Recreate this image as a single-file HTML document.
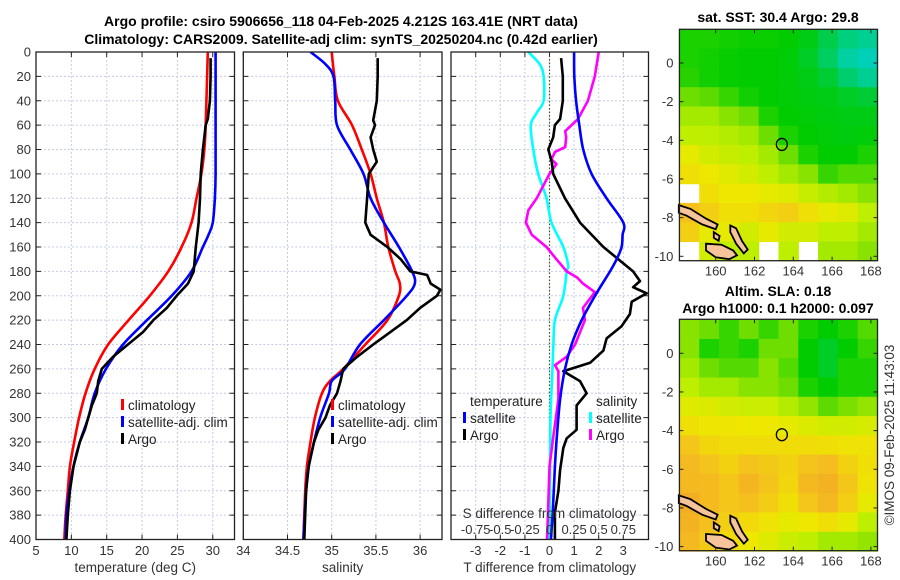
<!DOCTYPE html>
<html><head><meta charset="utf-8">
<style>
html,body{margin:0;padding:0;background:#fff;}
svg{display:block;font-family:"Liberation Sans","DejaVu Sans",sans-serif;}
.tk{font-size:13px;fill:#333;}
.ttl{font-size:14px;font-weight:bold;fill:#000;}
.lab{font-size:13.5px;fill:#333;}
.leg{font-size:13.5px;fill:#222;}
</style></head>
<body>
<svg id="chart" width="900" height="580" viewBox="0 0 900 580">
<text class="ttl" x="341" y="26" text-anchor="middle">Argo profile: csiro 5906656_118 04-Feb-2025 4.212S 163.41E (NRT data)</text>
<text class="ttl" x="341" y="44" text-anchor="middle">Climatology: CARS2009. Satellite-adj clim: synTS_20250204.nc (0.42d earlier)</text>
<text class="ttl" x="778" y="22" text-anchor="middle">sat. SST: 30.4 Argo: 29.8</text>
<text class="ttl" x="778" y="296" text-anchor="middle">Altim. SLA: 0.18</text>
<text class="ttl" x="778" y="313" text-anchor="middle">Argo h1000: 0.1 h2000: 0.097</text>
<text class="lab" x="0" y="0" transform="translate(894,435) rotate(-90)" text-anchor="middle">©IMOS 09-Feb-2025 11:43:03</text>
<g id="g-panels"></g>
<g id="g-maps"></g>
</svg>
<script>
// ---- depth axis data ----
const depthTicks = [0,20,40,60,80,100,120,140,160,180,200,220,240,260,280,300,320,340,360,380,400];
const tempTicks = [5,10,15,20,25,30];
const salTicks = [34,34.5,35,35.5,36];
const salTickLabels = ["34","34.5","35","35.5","36"];
const diffTicks = [-3,-2,-1,0,1,2,3];
const sdiffTicks = [-0.75,-0.5,-0.25,0,0.25,0.5,0.75];
const sdiffLabels = ["-0.75","-0.5","-0.25","0","0.25","0.5","0.75"];

// ---- temperature profiles ----
const climTDepth = [0,60,80,100,120,140,160,180,200,220,240,260,280,300,320,340,360,380,400];
const climTVal   = [29.3,29.0,28.8,28.4,27.7,27.0,25.6,23.7,21.1,18.1,15.2,13.3,12.0,11.1,10.4,9.8,9.5,9.2,9.0];
const satTDepth = [0,60,100,120,140,150,160,180,200,220,240,260,280,300,320,340,360,380,400];
const satTVal   = [30.4,30.4,30.4,30.3,30.0,29.4,28.6,27.0,24.2,20.7,17.3,14.9,13.3,12.4,11.2,10.3,9.7,9.3,9.2];
const argoTDepth = [5,20,40,55,60,80,100,120,140,160,180,190,200,210,220,230,240,250,260,270,280,290,300,310,320,340,360,380,400];
const argoTVal   = [29.7,29.7,29.6,29.3,29.0,28.6,28.3,28.2,28.0,27.6,27.3,26.5,24.9,23.5,21.6,20.1,18.0,15.9,14.3,13.8,13.6,12.9,12.4,11.9,11.2,10.3,9.8,9.5,9.3];

// ---- salinity profiles ----
const climSDepth = [0,20,40,60,80,100,120,140,160,180,190,200,220,240,260,270,280,300,320,340,360,400];
const climSVal   = [35.0,35.03,35.07,35.23,35.34,35.44,35.51,35.59,35.64,35.72,35.77,35.76,35.63,35.38,35.13,34.98,34.89,34.81,34.76,34.72,34.70,34.68];
const satSDepth = [0,10,20,40,60,80,100,120,140,160,180,190,200,220,240,260,270,280,300,320,340,360,400];
const satSVal   = [34.76,34.93,35.02,35.04,35.06,35.21,35.36,35.44,35.59,35.76,35.91,35.94,35.85,35.59,35.32,35.15,35.0,34.97,34.87,34.80,34.74,34.71,34.68];
const argoSDepth = [5,20,40,56,60,70,80,90,100,120,140,150,160,170,180,183,190,195,200,210,220,230,240,250,260,270,280,290,300,310,320,340,360,380,400];
const argoSVal   = [35.52,35.52,35.51,35.47,35.49,35.44,35.47,35.51,35.42,35.40,35.38,35.44,35.63,35.78,35.89,36.08,36.12,36.23,36.19,36.0,35.85,35.66,35.47,35.29,35.13,35.1,35.06,34.98,34.93,34.85,34.80,34.74,34.71,34.70,34.69];

// ---- differences from climatology ----
const satTdDepth = [0,20,40,60,80,100,120,140,150,160,170,180,200,220,240,260,285,318,340,378,400];
const satTdVal   = [1.0,1.01,1.08,1.21,1.37,1.71,2.32,3.0,2.97,2.93,2.73,2.46,1.85,1.31,0.9,0.63,0.43,0.29,0.22,0.13,0.06];
const argoTdDepth = [5,20,40,55,60,70,80,90,100,120,140,160,180,188,193,198,205,215,225,235,245,255,262,270,280,290,310,317,325,343,360,378,400];
const argoTdVal   = [0.47,0.54,0.54,0.43,0.22,0.15,-0.05,0.09,0.15,0.63,1.24,2.19,3.4,3.68,3.4,3.95,3.34,3.27,2.93,2.32,2.19,1.65,0.56,1.24,1.51,1.1,1.1,0.7,0.56,0.43,0.36,0.22,0.22];
const satSdDepth = [0,10,20,40,50,60,80,100,120,140,160,175,180,200,220,240,260,300,350,400];
const satSdVal   = [-0.215,-0.10,-0.06,-0.06,-0.13,-0.19,-0.165,-0.115,-0.03,0.02,0.14,0.19,0.175,0.14,0.055,0.04,0.03,0.01,0.005,0.0];
const argoSdDepth = [0,20,40,55,60,65,70,78,82,88,92,100,120,130,140,150,160,170,180,185,190,197,210,220,230,240,250,257,262,285,318,340,378,400];
const argoSdVal   = [0.50,0.46,0.39,0.29,0.225,0.16,0.17,0.16,0.056,0.02,0.07,0.0,-0.13,-0.215,-0.24,-0.18,-0.03,0.07,0.175,0.28,0.34,0.46,0.34,0.36,0.31,0.26,0.175,0.056,0.09,0.09,0.035,0.0,-0.015,-0.025];

// ---- map grids (0=cyan/low ... 1=orange/high, null = no data) ----
const sstGrid = [
 [0.30,0.30,0.28,0.27,0.27,0.25,0.22,0.15,0.08,0.05],
 [0.30,0.28,0.26,0.25,0.25,0.24,0.20,0.12,0.03,0.00],
 [0.32,0.28,0.26,0.25,0.25,0.24,0.22,0.18,0.10,0.05],
 [0.45,0.42,0.35,0.28,0.25,0.24,0.23,0.22,0.20,0.18],
 [0.55,0.55,0.50,0.45,0.30,0.25,0.24,0.23,0.22,0.22],
 [0.60,0.60,0.58,0.55,0.45,0.30,0.25,0.24,0.23,0.24],
 [0.70,0.65,0.62,0.60,0.55,0.45,0.30,0.25,0.25,0.30],
 [0.75,0.72,0.68,0.65,0.60,0.55,0.50,0.35,0.40,0.40],
 [null,0.75,0.72,0.72,0.70,0.68,0.62,0.58,0.55,0.50],
 [0.85,0.80,0.75,0.75,0.78,0.80,0.75,0.70,0.68,0.60],
 [0.80,0.70,0.70,0.65,0.70,0.65,0.65,0.60,0.60,0.55],
 [null,0.65,0.60,0.60,null,0.60,null,0.55,0.55,0.50]
];
const slaGrid = [
 [0.50,0.45,0.35,0.45,0.35,0.45,0.30,0.25,0.30,0.40],
 [0.50,0.30,0.35,0.30,0.45,0.45,0.25,0.20,0.25,0.35],
 [0.55,0.45,0.40,0.40,0.50,0.40,0.25,0.20,0.30,0.30],
 [0.60,0.55,0.55,0.50,0.50,0.45,0.30,0.25,0.30,0.30],
 [0.68,0.67,0.65,0.63,0.63,0.58,0.52,0.42,0.47,0.52],
 [0.75,0.73,0.73,0.72,0.72,0.70,0.67,0.65,0.65,0.66],
 [0.83,0.78,0.76,0.76,0.76,0.76,0.76,0.75,0.74,0.74],
 [0.87,0.84,0.79,0.84,0.82,0.79,0.84,0.86,0.79,0.75],
 [0.88,0.87,0.83,0.89,0.84,0.78,0.88,0.90,0.83,0.74],
 [0.92,0.87,0.83,0.85,0.81,0.75,0.83,0.88,0.80,0.70],
 [0.90,0.85,0.80,0.77,0.74,0.70,0.72,0.75,0.70,0.60],
 [0.88,0.82,0.77,0.72,0.68,0.63,0.60,0.55,0.55,0.52]
];
const lonTicks = [160,162,164,166,168];
const latTicks = [0,-2,-4,-6,-8,-10];
const argoPos = [163.41,-4.212];

const NS = "http://www.w3.org/2000/svg";
function mk(tag, attrs, parent){
  const e = document.createElementNS(NS, tag);
  for (const k in attrs) e.setAttribute(k, attrs[k]);
  parent.appendChild(e);
  return e;
}
const gp = document.getElementById('g-panels');
const gm = document.getElementById('g-maps');

const TOP = 52, BOT = 539.5;
const yD = d => TOP + d * (BOT - TOP) / 400;
const xT = t => 36 + (t - 5) * 7.07;
const xS = s => 243.3 + (s - 34) * 88.4;
const xD = v => 549.5 + v * 24.6;
const xSD = v => xD(v * 4);

const panels = [
  {name:'temperature-panel', x0:36, x1:234.5, xs:tempTicks, xf:xT, xl:tempTicks.map(String), ylab:true, xlabel:'temperature (deg C)'},
  {name:'salinity-panel', x0:243.3, x1:442, xs:salTicks, xf:xS, xl:salTickLabels, ylab:false, xlabel:'salinity'},
  {name:'difference-panel', x0:451, x1:648.5, xs:diffTicks, xf:xD, xl:diffTicks.map(String), ylab:false, xlabel:'T difference from climatology'}
];

panels.forEach(p => {
  const g = mk('g', {}, gp);
  
  
  depthTicks.forEach(d => {
    if (d === 0 || d === 400) return;
    const l = mk('line', {x1:p.x0, x2:p.x1, y1:yD(d), y2:yD(d), stroke:'#c5cce6', 'stroke-width':1, 'stroke-dasharray':'2,2'}, g);
    
    
  });
  p.xs.forEach(v => {
    const x = p.xf(v);
    if (x <= p.x0 + 1 || x >= p.x1 - 1) return;
    const l = mk('line', {x1:x, x2:x, y1:TOP, y2:BOT, stroke:'#c5cce6', 'stroke-width':1, 'stroke-dasharray':'2,2'}, g);
    
    
  });
  depthTicks.forEach(d => {
    const y = yD(d);
    mk('line', {x1:p.x0, x2:p.x0+5, y1:y, y2:y, stroke:'#222', 'stroke-width':1}, g);
    mk('line', {x1:p.x1-5, x2:p.x1, y1:y, y2:y, stroke:'#222', 'stroke-width':1}, g);
    if (p.ylab) {
      const t = mk('text', {x:31, y:y+4.5, 'text-anchor':'end', class:'tk'}, g);
      t.textContent = d;
      
      
    }
  });
  p.xs.forEach((v, i) => {
    const x = p.xf(v);
    mk('line', {x1:x, x2:x, y1:BOT-5, y2:BOT, stroke:'#222', 'stroke-width':1}, g);
    mk('line', {x1:x, x2:x, y1:TOP, y2:TOP+5, stroke:'#222', 'stroke-width':1}, g);
    const t = mk('text', {x:x, y:555, 'text-anchor':'middle', class:'tk'}, g);
    t.textContent = p.xl[i];
    
    
  });
  const xl = mk('text', {x:(p.x0+p.x1)/2, y:572, 'text-anchor':'middle', class:'lab'}, g);
  xl.textContent = p.xlabel;
  
  
});

const zl = mk('line', {x1:xD(0), x2:xD(0), y1:TOP, y2:BOT, stroke:'#445522', 'stroke-width':1.2, 'stroke-dasharray':'1.5,2'}, gp);



function smoothPath(pts){
  let d = 'M' + pts[0][0].toFixed(1) + ',' + pts[0][1].toFixed(1);
  for (let i = 0; i < pts.length - 1; i++){
    const p0 = pts[Math.max(0,i-1)], p1 = pts[i], p2 = pts[i+1], p3 = pts[Math.min(pts.length-1,i+2)];
    const c1 = [p1[0]+(p2[0]-p0[0])/6, p1[1]+(p2[1]-p0[1])/6];
    const c2 = [p2[0]-(p3[0]-p1[0])/6, p2[1]-(p3[1]-p1[1])/6];
    d += ' C' + c1[0].toFixed(1)+','+c1[1].toFixed(1)+' '+c2[0].toFixed(1)+','+c2[1].toFixed(1)+' '+p2[0].toFixed(1)+','+p2[1].toFixed(1);
  }
  return d;
}
function series(depths, vals, xf, color, name, clipId, smooth){
  const pts = depths.map((d,i) => [xf(vals[i]), yD(d)]);
  const d = smooth ? smoothPath(pts) : 'M' + pts.map(p => p[0].toFixed(1)+','+p[1].toFixed(1)).join(' L');
  const pl = mk('path', {d:d, fill:'none', stroke:color, 'stroke-width':2.6, 'stroke-linejoin':'round', 'clip-path':'url(#'+clipId+')'}, gp);
  
  
}
const defs = mk('defs', {}, gp);
panels.forEach((p, i) => {
  const c = mk('clipPath', {id:'clip'+i}, defs);
  mk('rect', {x:p.x0, y:TOP, width:p.x1-p.x0, height:BOT-TOP}, c);
});
series(climTDepth, climTVal, xT, '#ff0000', 'temperature-climatology-line', 'clip0', true);
series(satTDepth, satTVal, xT, '#0000ff', 'temperature-satellite-line', 'clip0', true);
series(argoTDepth, argoTVal, xT, '#000000', 'temperature-argo-line', 'clip0', false);
series(climSDepth, climSVal, xS, '#ff0000', 'salinity-climatology-line', 'clip1', true);
series(satSDepth, satSVal, xS, '#0000ff', 'salinity-satellite-line', 'clip1', true);
series(argoSDepth, argoSVal, xS, '#000000', 'salinity-argo-line', 'clip1', false);
series(satSdDepth, satSdVal, xSD, '#00ffff', 'salinity-diff-satellite-line', 'clip2', true);
series(argoSdDepth, argoSdVal, xSD, '#ff00ff', 'salinity-diff-argo-line', 'clip2', false);
series(argoTdDepth, argoTdVal, xD, '#000000', 'temperature-diff-argo-line', 'clip2', false);
series(satTdDepth, satTdVal, xD, '#0000ff', 'temperature-diff-satellite-line', 'clip2', true);

panels.forEach(p => {
  const r = mk('rect', {x:p.x0, y:TOP, width:p.x1-p.x0, height:BOT-TOP, fill:'none', stroke:'#222', 'stroke-width':1.3}, gp);
  
  
});

const st = mk('text', {x:xD(0), y:518, 'text-anchor':'middle', class:'lab'}, gp);
st.textContent = 'S difference from climatology';


sdiffTicks.forEach((v, i) => {
  const t = mk('text', {x:xSD(v), y:534, 'text-anchor':'middle', class:'tk'}, gp);
  t.textContent = sdiffLabels[i];
  
  
});

function legItem(x, y, color, label, name){
  const g = mk('g', {}, gp);
  
  
  mk('rect', {x:x, y:y-11, width:3, height:11, fill:color}, g);
  const t = mk('text', {x:x+7, y:y, class:'leg'}, g);
  t.textContent = label;
}
legItem(121, 410, '#ff0000', 'climatology', 'legend-entry-climatology');
legItem(121, 427, '#0000ff', 'satellite-adj. clim', 'legend-entry-satellite-adj');
legItem(121, 444, '#000000', 'Argo', 'legend-entry-argo');
legItem(331, 410, '#ff0000', 'climatology', 'legend-entry-sal-climatology');
legItem(331, 427, '#0000ff', 'satellite-adj. clim', 'legend-entry-sal-satellite-adj');
legItem(331, 444, '#000000', 'Argo', 'legend-entry-sal-argo');
(function(){
  const t1 = mk('text', {x:470, y:406, class:'leg'}, gp);
  t1.textContent = 'temperature';
  
  
  const t2 = mk('text', {x:596, y:406, class:'leg'}, gp);
  t2.textContent = 'salinity';
  
  
})();
legItem(463, 423, '#0000ff', 'satellite', 'legend-entry-temp-diff-satellite');
legItem(463, 440, '#000000', 'Argo', 'legend-entry-temp-diff-argo');
legItem(589, 423, '#00ffff', 'satellite', 'legend-entry-sal-diff-satellite');
legItem(589, 440, '#ff00ff', 'Argo', 'legend-entry-sal-diff-argo');

// ---- maps ----
const LON0 = 158.13, LON1 = 168.34, LAT0 = 1.74, LAT1 = -10.23;
const mX = l => 715.7 + (l - 160) * 19.4;
const stops = [[0,[0,208,184]],[0.25,[0,204,0]],[0.45,[110,222,0]],[0.6,[190,238,0]],[0.72,[238,232,0]],[0.85,[245,192,30]],[1,[240,150,40]]];
function cmap(v){
  for (let i=1;i<stops.length;i++){
    if (v <= stops[i][0]) {
      const a = stops[i-1], b = stops[i], f = (v-a[0])/(b[0]-a[0]);
      const c = a[1].map((x,k)=>Math.round(x+(b[1][k]-x)*f));
      return 'rgb('+c.join(',')+')';
    }
  }
  return 'rgb(240,150,40)';
}
const islands = [
  [[158.1,-7.35],[158.7,-7.55],[159.5,-8.05],[160.1,-8.35],[160.0,-8.6],[159.3,-8.35],[158.5,-7.9],[158.1,-7.75]],
  [[159.5,-9.35],[160.3,-9.4],[160.9,-9.7],[161.1,-9.95],[160.7,-10.15],[160.0,-10.05],[159.5,-9.7]],
  [[160.75,-8.4],[161.05,-8.55],[161.35,-9.2],[161.65,-9.65],[161.45,-9.85],[161.05,-9.35],[160.75,-8.75]],
  [[159.9,-8.75],[160.2,-8.95],[160.15,-9.2],[159.9,-9.05]]
];
function drawMap(grid, yLat, name, y0, y1){
  const g = mk('g', {}, gm);
  
  
  const nr = grid.length, nc = grid[0].length;
  const dLon = (LON1-LON0)/nc, dLat = (LAT0-LAT1)/nr;
  grid.forEach((row, r) => row.forEach((v, c) => {
    if (v === null) return;
    const xa = mX(LON0 + c*dLon), xb = mX(LON0 + (c+1)*dLon);
    const ya = yLat(LAT0 - r*dLat), yb = yLat(LAT0 - (r+1)*dLat);
    const cell = mk('rect', {x:xa.toFixed(2), y:ya.toFixed(2), width:(xb-xa+0.6).toFixed(2), height:(yb-ya+0.6).toFixed(2), fill:cmap(v)}, g);
    
    
  }));
  islands.forEach(poly => {
    const pts = poly.map(p => mX(p[0]).toFixed(1)+','+yLat(p[1]).toFixed(1)).join(' ');
    const isl = mk('polygon', {points:pts, fill:'#f6c39a', stroke:'#000', 'stroke-width':1.8}, g);
    
    
  });
  const x0 = mX(LON0), x1 = mX(LON1);
  const fr = mk('rect', {x:x0, y:y0, width:x1-x0, height:y1-y0, fill:'none', stroke:'#222', 'stroke-width':1.3}, g);
  
  
  lonTicks.forEach(l => {
    const x = mX(l);
    mk('line', {x1:x, x2:x, y1:y1-4, y2:y1, stroke:'#222'}, g);
    mk('line', {x1:x, x2:x, y1:y0, y2:y0+4, stroke:'#222'}, g);
    const t = mk('text', {x:x, y:y1+15, 'text-anchor':'middle', class:'tk'}, g);
    t.textContent = l;
    
    
  });
  latTicks.forEach(l => {
    const y = yLat(l);
    mk('line', {x1:x0, x2:x0+4, y1:y, y2:y, stroke:'#222'}, g);
    mk('line', {x1:x1-4, x2:x1, y1:y, y2:y, stroke:'#222'}, g);
    const t = mk('text', {x:x0-6, y:y+4.5, 'text-anchor':'end', class:'tk'}, g);
    t.textContent = l;
    
    
  });
  const m = mk('ellipse', {cx:mX(argoPos[0]), cy:yLat(argoPos[1]), rx:5.5, ry:6, fill:'none', stroke:'#000', 'stroke-width':1.3}, g);
  
  
}
drawMap(sstGrid, l => 63 - l*19.33, 'sst-map', 29.3, 260.7);
drawMap(slaGrid, l => 353.3 - l*19.33, 'sla-map', 319.3, 550.7);
</script>
</body></html>
